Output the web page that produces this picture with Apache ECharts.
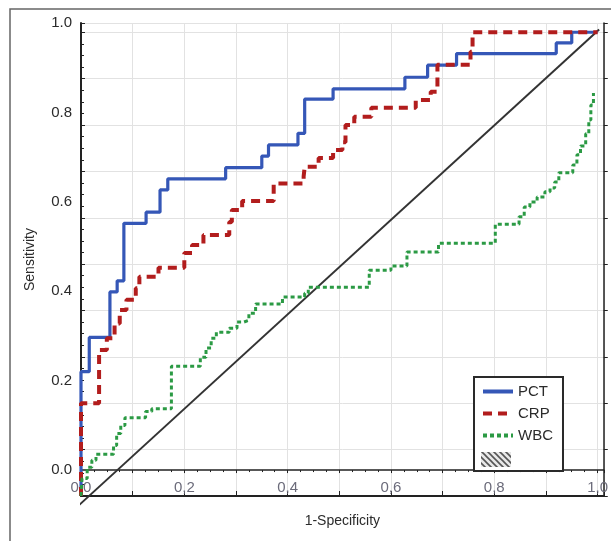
<html>
<head>
	<meta http-equiv="Content-Type" content="text/html; charset=UTF-8">
	<title>ROC</title>
	<style>
		html, body { margin: 0; padding: 0; background: #fff; }
		#roc { width: 611px; height: 541px; }
	</style>
</head>
<body>
	<div id="roc"></div>

	<script type="text/javascript" src="https://cdn.jsdelivr.net/npm/echarts@6/dist/echarts.min.js"></script>
	<script type="text/javascript">

	// step points (1-specificity, sensitivity)
	var pctX = [0, 0, 0.016, 0.056, 0.070, 0.083, 0.126, 0.153, 0.168, 0.280, 0.350, 0.363, 0.420, 0.433, 0.488, 0.627, 0.671, 0.727, 0.920, 0.950, 1.0];
	var pctY = [0, 0.268, 0.342, 0.440, 0.464, 0.588, 0.612, 0.660, 0.684, 0.708, 0.733, 0.757, 0.782, 0.856, 0.878, 0.903, 0.929, 0.954, 0.977, 1.0, 1.0];

	var crpX = [0, 0, 0.035, 0.050, 0.065, 0.075, 0.088, 0.106, 0.113, 0.150, 0.200, 0.215, 0.237, 0.287, 0.292, 0.312, 0.373, 0.431, 0.433, 0.460, 0.488, 0.506, 0.512, 0.529, 0.562, 0.648, 0.677, 0.690, 0.754, 0.758, 1.0];
	var crpY = [0, 0.200, 0.315, 0.340, 0.372, 0.401, 0.423, 0.448, 0.473, 0.492, 0.524, 0.541, 0.563, 0.591, 0.617, 0.636, 0.674, 0.689, 0.710, 0.729, 0.746, 0.763, 0.800, 0.818, 0.837, 0.854, 0.872, 0.930, 0.958, 1.0, 1.0];

	var wbcX = [0, 0.002, 0.012, 0.021, 0.029, 0.063, 0.069, 0.077, 0.085, 0.125, 0.137, 0.175, 0.231, 0.242, 0.252, 0.262, 0.287, 0.302, 0.315, 0.325, 0.338, 0.390, 0.433, 0.440, 0.558, 0.600, 0.631, 0.692, 0.802, 0.848, 0.858, 0.869, 0.883, 0.898, 0.908, 0.917, 0.925, 0.952, 0.960, 0.967, 0.977, 0.983, 0.987, 0.992];
	var wbcY = [0, 0.038, 0.062, 0.077, 0.090, 0.109, 0.135, 0.152, 0.169, 0.182, 0.188, 0.280, 0.299, 0.319, 0.340, 0.353, 0.362, 0.375, 0.379, 0.394, 0.414, 0.429, 0.437, 0.450, 0.487, 0.496, 0.526, 0.545, 0.586, 0.602, 0.623, 0.634, 0.645, 0.656, 0.664, 0.677, 0.697, 0.714, 0.736, 0.755, 0.781, 0.811, 0.843, 0.869];

	// reference diagonal
	var diagX = [-0.008, 1.003];
	var diagY = [-0.024, 1.006];

	var tickLabels = [0, 0.2, 0.4, 0.6, 0.8, 1.0];

	function zip(xs, ys) {
		var out = [];
		for (var i = 0; i < xs.length; i++) {
			out.push([xs[i], ys[i]]);
		}
		return out;
	}

	// small hatch tile for the empty legend row
	function hatchTile() {
		var c = document.createElement('canvas');
		c.width = 6; c.height = 6;
		var g = c.getContext('2d');
		g.fillStyle = '#e8e8e8';
		g.fillRect(0, 0, 6, 6);
		g.strokeStyle = '#555';
		g.lineWidth = 1.6;
		g.beginPath();
		g.moveTo(0, 0); g.lineTo(6, 6);
		g.moveTo(-3, 3); g.lineTo(3, 9);
		g.moveTo(3, -3); g.lineTo(9, 3);
		g.stroke();
		return c;
	}

	var font = '"Liberation Sans", Arial, sans-serif';
	var chart = echarts.init(document.getElementById('roc'));

	var option = {
		backgroundColor: '#fff',
		animation: false,
		grid: { left: 81, right: 4, top: 23, bottom: 45, containLabel: false },
		legend: {
			orient: 'vertical',
			left: 474,
			top: 377,
			data: ['PCT', 'CRP', 'WBC'],
			itemWidth: 30,
			itemHeight: 16,
			itemGap: 7,
			padding: [7, 10, 28, 7],
			borderColor: '#2a2a2a',
			borderWidth: 2,
			backgroundColor: '#fff',
			itemStyle: { color: 'rgba(0,0,0,0)', borderColor: 'rgba(0,0,0,0)', borderWidth: 0 },
			lineStyle: { width: 4 },
			textStyle: { fontFamily: font, fontSize: 15, color: '#2b2b2b' }
		},
		xAxis: [
			{
				type: 'value', min: 0, max: 1.012, interval: 0.1,
				name: '1-Specificity', nameLocation: 'middle', nameGap: 18,
				nameTextStyle: { fontFamily: font, fontSize: 14, color: '#2b2b2b' },
				axisLine: { lineStyle: { color: '#222', width: 2 } },
				axisTick: { inside: true, length: 5, lineStyle: { color: '#222' } },
				axisLabel: {
					inside: true, margin: 1, customValues: tickLabels,
					fontFamily: font, fontSize: 15, color: '#6b6b7a',
					formatter: function (v) { return v.toFixed(1).replace('.', ','); }
				},
				splitLine: { show: true, lineStyle: { color: '#e2e2e2', width: 1 } }
			},
			{
				type: 'value', position: 'top', min: 0, max: 1.012, interval: 0.1,
				axisLine: { show: true, lineStyle: { color: '#222', width: 1.5 } },
				axisTick: { inside: true, length: 3, lineStyle: { color: '#222' } },
				minorTick: { show: true, splitNumber: 4, length: 2, lineStyle: { color: '#222' } },
				axisLabel: { show: false },
				splitLine: { show: false }
			}
		],
		yAxis: [
			{
				type: 'value', min: 0, max: 1.02, interval: 0.1, position: 'left',
				name: 'Sensitivity', nameLocation: 'middle', nameGap: 44, nameRotate: 90,
				nameTextStyle: { fontFamily: font, fontSize: 14, color: '#2b2b2b' },
				axisLine: { show: true, lineStyle: { color: '#222', width: 2 } },
				axisTick: { inside: true, length: 4, lineStyle: { color: '#222' } },
				minorTick: { show: true, splitNumber: 4, length: 3, lineStyle: { color: '#222' } },
				axisLabel: { show: false },
				splitLine: { show: true, lineStyle: { color: '#e2e2e2', width: 1 } }
			},
			{
				// tick labels as they sit in the picture
				type: 'value', min: -0.058, max: 1.0, position: 'left',
				axisLine: { show: false },
				axisTick: { show: false },
				splitLine: { show: false },
				axisLabel: {
					margin: 9, customValues: tickLabels,
					fontFamily: font, fontSize: 15, color: '#2b2b2b',
					formatter: function (v) { return v.toFixed(1); }
				}
			},
			{
				type: 'value', min: 0, max: 1.02, interval: 0.1, position: 'right',
				axisLine: { show: true, lineStyle: { color: '#222', width: 1.5 } },
				axisTick: { show: true, length: 4, lineStyle: { color: '#222' } },
				axisLabel: { show: false },
				splitLine: { show: false }
			}
		],
		graphic: [
			{
				type: 'rect', silent: true, z: -10,
				shape: { x: 10, y: 9, width: 700, height: 700 },
				style: { fill: 'none', stroke: '#666', lineWidth: 1.5 }
			},
			{
				type: 'rect', silent: true, z: 100,
				shape: { x: 481, y: 452, width: 30, height: 15 },
				style: { fill: { image: hatchTile(), repeat: 'repeat' } }
			}
		],
		series: [
			{
				name: 'diag', type: 'line', data: zip(diagX, diagY),
				showSymbol: false, symbol: 'none', clip: false, z: 1,
				lineStyle: { color: '#333', width: 2 }
			},
			{
				name: 'PCT', type: 'line', step: 'end', data: zip(pctX, pctY),
				showSymbol: false, symbol: 'none', z: 3,
				lineStyle: { color: '#3557b7', width: 3.2 },
				itemStyle: { color: '#3557b7' }
			},
			{
				name: 'CRP', type: 'line', step: 'end', data: zip(crpX, crpY),
				showSymbol: false, symbol: 'none', z: 4,
				lineStyle: { color: '#b21d1d', width: 4, type: [9, 6] },
				itemStyle: { color: '#b21d1d' }
			},
			{
				name: 'WBC', type: 'line', step: 'end', data: zip(wbcX, wbcY),
				showSymbol: false, symbol: 'none', z: 4,
				lineStyle: { color: '#2b9a44', width: 3, type: [4, 3] },
				itemStyle: { color: '#2b9a44' }
			}
		]
	};

	chart.setOption(option);
	</script>
</body>
</html>
